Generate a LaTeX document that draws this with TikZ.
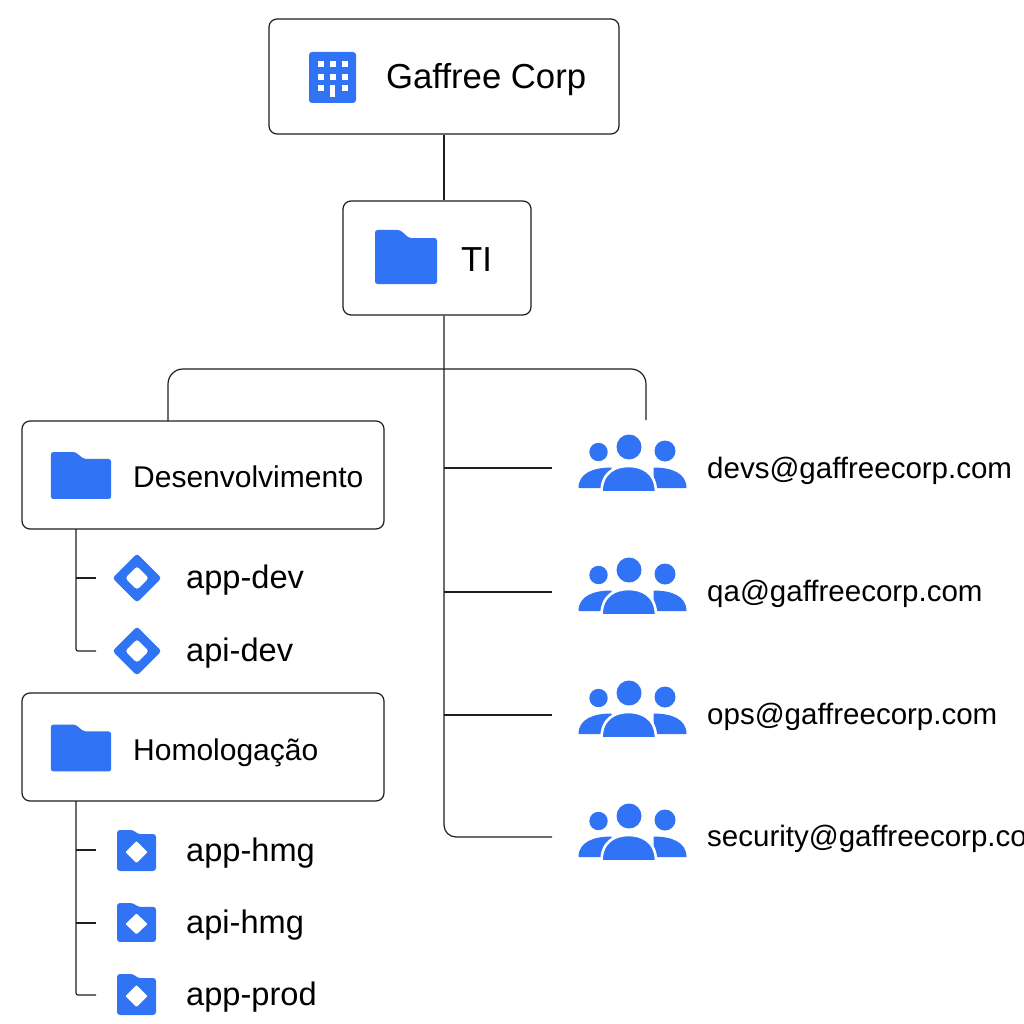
\documentclass[tikz,border=0pt]{standalone}
\usepackage{fontspec}
\setmainfont{Liberation Sans}

\definecolor{iconblue}{HTML}{3073F5}
\definecolor{linegray}{HTML}{1E1E1E}

\tikzset{
  orgbox/.style={draw=linegray,line width=1.2pt,rounded corners=8pt,fill=white,inner sep=0pt},
  orgline/.style={draw=linegray,line width=1.2pt},
  biglabel/.style={anchor=base west,inner sep=0pt,font=\fontsize{34.7}{40}\selectfont},
  boxlabel/.style={anchor=base west,inner sep=0pt,font=\fontsize{30}{34}\selectfont},
  itemlabel/.style={anchor=base west,inner sep=0pt,font=\fontsize{32.6}{36}\selectfont},
  grouplabel/.style={anchor=base west,inner sep=0pt,font=\fontsize{29.5}{34}\selectfont},
  buildingpic/.pic={
    \fill[iconblue,rounded corners=3pt] (-23.5,-25.5) rectangle (23.5,25.5);
    \foreach \i in {-12,0,12} {
      \fill[white] (\i-3,-16) rectangle (\i+3,-10);
      \fill[white] (\i-3,-3.5) rectangle (\i+3,2.5);
    }
    \foreach \i in {-12,12} \fill[white] (\i-3,7.5) rectangle (\i+3,13.5);
    \fill[white] (-2.5,7.5) rectangle (2.5,19.5);
  },
  folderpic/.pic={
    \fill[iconblue,rounded corners=2.5pt] (-31,27) -- (-31,-27) -- (-6,-27) -- (3,-19) -- (31,-19) -- (31,27) -- cycle;
  },
  diamondpic/.pic={
    \fill[iconblue,rounded corners=3pt,even odd rule] (-24.5,0) -- (0,-24.5) -- (24.5,0) -- (0,24.5) -- cycle
      (-12,0) -- (0,-12) -- (12,0) -- (0,12) -- cycle;
  },
  projectpic/.pic={
    \fill[iconblue,rounded corners=3pt] (-19.5,20.5) -- (-19.5,-20.5) -- (-3,-20.5) -- (1,-16.5) -- (19.5,-16.5) -- (19.5,20.5) -- cycle;
    \fill[white,rounded corners=1pt] (-11,1.5) -- (0,-9.5) -- (11,1.5) -- (0,12.5) -- cycle;
  },
  peoplepic/.pic={
    \fill[iconblue] (-31,5) circle (9.2);
    \fill[iconblue] (35.5,4) circle (10.5);
    \fill[iconblue] (-0.5,0) circle (12.5);
    \fill[iconblue] (-51,41) .. controls (-51,26) and (-36,20.5) .. (-18,20.5) -- (-18,41) -- cycle;
    \fill[iconblue] (57,41) .. controls (57,26) and (42,20.5) .. (24,20.5) -- (24,41) -- cycle;
    \fill[iconblue,draw=white,line width=2.6pt] (-28,45.5) .. controls (-28,25) and (-14,19) .. (-1,19)
      .. controls (12,19) and (26.5,25) .. (26.5,45.5) -- cycle;
    \fill[white] (-31,45.5) rectangle (30,49);
  }
}

\begin{document}
\begin{tikzpicture}[x=1pt,y=-1pt]
  \useasboundingbox (0,0) rectangle (1024,1024);
  \clip (0,0) rectangle (1024,1024);

  % boxes
  \node [orgbox,minimum width=350pt,minimum height=115pt] (corp) at (444,76.5) {};
  \node [orgbox,minimum width=188pt,minimum height=114pt] (ti) at (437,258) {};
  \node [orgbox,minimum width=362pt,minimum height=108pt] (desenv) at (203,475) {};
  \node [orgbox,minimum width=362pt,minimum height=108pt] (homolog) at (203,747) {};

  % free ends of the lines
  \coordinate (busleft) at (168,421);
  \coordinate (busright) at (646,420);
  \coordinate (bustop) at (444,369);
  \coordinate (devroot) at (76,529);
  \coordinate (homroot) at (76,801);
  \coordinate (appdevend) at (96,578);
  \coordinate (apidevend) at (96,651);
  \coordinate (apphmgend) at (96,850);
  \coordinate (apihmgend) at (96,923);
  \coordinate (appprodend) at (96,995);
  \coordinate (devsend) at (552,468);
  \coordinate (qaend) at (552,592);
  \coordinate (opsend) at (552,715);
  \coordinate (securityend) at (552,837);

  \draw [orgline] (corp.south) -- (corp.south |- ti.north);
  \draw [orgline,rounded corners=12pt] (corp.south |- ti.south) |- (securityend);
  \foreach \e in {devsend,qaend,opsend} {
    \draw [orgline] (corp.south |- \e) -- (\e);
  }
  \draw [orgline,rounded corners=15pt] (busleft) |- (bustop) -| (busright);

  \draw [orgline,rounded corners=2pt] (devroot) |- (apidevend);
  \draw [orgline] (devroot |- appdevend) -- (appdevend);
  \draw [orgline,rounded corners=2pt] (homroot) |- (appprodend);
  \foreach \e in {apphmgend,apihmgend} {
    \draw [orgline] (homroot |- \e) -- (\e);
  }

  % icons
  \pic at (332.5,77.5) {buildingpic};
  \pic at (406,257) {folderpic};
  \pic [xscale=0.97,yscale=0.87] at (81,475.5) {folderpic};
  \pic [xscale=0.97,yscale=0.87] at (81,748) {folderpic};
  \pic at (137,578) {diamondpic};
  \pic at (137,651) {diamondpic};
  \pic at (136.5,850.5) {projectpic};
  \pic [yscale=0.95] at (136.5,922.5) {projectpic};
  \pic at (136.5,994.5) {projectpic};
  \foreach \y in {447,570,693,816} {
    \pic at (629.5,\y) {peoplepic};
  }

  % labels
  \node [biglabel] (corplabel) at (386,89) {Gaffree Corp};
  \node [biglabel] (tilabel) at (461,271) {TI};
  \node [boxlabel] (desenvlabel) at (133,487) {Desenvolvimento};
  \node [boxlabel] (homologlabel) at (133,760) {Homologação};
  \node [itemlabel] (appdevlabel) at (186,588) {app-dev};
  \node [itemlabel] (apidevlabel) at (186,661) {api-dev};
  \node [itemlabel] (apphmglabel) at (186,861) {app-hmg};
  \node [itemlabel] (apihmglabel) at (186,933) {api-hmg};
  \node [itemlabel] (appprodlabel) at (186,1005) {app-prod};
  \node [grouplabel] (devslabel) at (707,478) {devs@gaffreecorp.com};
  \node [grouplabel] (qalabel) at (707,601) {qa@gaffreecorp.com};
  \node [grouplabel] (opslabel) at (707,724) {ops@gaffreecorp.com};
  \node [grouplabel] (securitylabel) at (707,846) {security@gaffreecorp.com};
\end{tikzpicture}
\end{document}
